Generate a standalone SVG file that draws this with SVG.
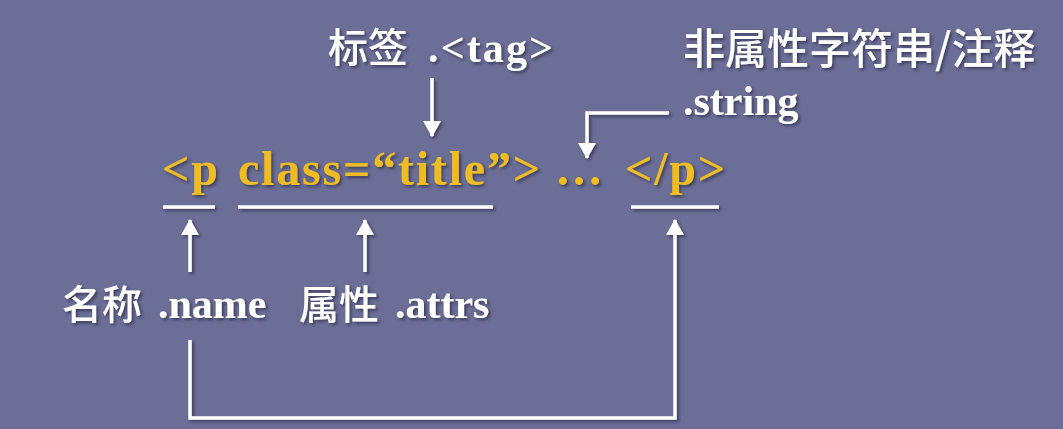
<svg xmlns="http://www.w3.org/2000/svg" width="1063" height="429" viewBox="0 0 1063 429">
<defs>
<filter id="sh" x="-10%" y="-30%" width="120%" height="160%"><feDropShadow dx="2" dy="2" stdDeviation="1.5" flood-color="#2a2c45" flood-opacity="0.7"/></filter>
<marker id="ah" viewBox="0 0 16 18" refX="15" refY="9" markerWidth="16" markerHeight="18" orient="auto" markerUnits="userSpaceOnUse"><path d="M0,0 L16,9 L0,18 z" fill="#fff"/></marker>
<style>
.lat{fill:#fff;font-family:"Liberation Serif",serif;font-size:42px;font-weight:bold}
.cjk{fill:#fff;font-family:"Noto Sans CJK SC",sans-serif;font-size:40px;font-weight:500}
.code{fill:#efbd22;font-family:"Liberation Serif",serif;font-size:48px;font-weight:bold;letter-spacing:1.8px}
.ln{stroke:#fff;stroke-width:3.5;fill:none}
.ar{stroke:#fff;stroke-width:3.5;fill:none;marker-end:url(#ah)}
</style>
</defs>
<rect width="1063" height="429" fill="#6b6e96"/>
<g id="code" filter="url(#sh)">
<text class="code" x="162" y="185">&lt;p</text>
<text class="code" x="238" y="185">class=“title”&gt;</text>
<text class="code" x="555" y="185">…</text>
<text class="code" x="625" y="185">&lt;/p&gt;</text>
</g>
<g id="tag" filter="url(#sh)"><text class="cjk" x="328" y="62">标签</text><text class="lat" x="428" y="62" textLength="125">.&lt;tag&gt;</text></g>
<g id="string" filter="url(#sh)"><text class="cjk" x="683" y="64" style="font-size:42px">非属性字符串/注释</text><text class="lat" x="683" y="115">.string</text></g>
<g id="name" filter="url(#sh)"><text class="cjk" x="62" y="319">名称</text><text class="lat" x="158" y="318">.name</text></g>
<g id="attrs" filter="url(#sh)"><text class="cjk" x="299" y="319">属性</text><text class="lat" x="395" y="318">.attrs</text></g>
<g id="connectors" filter="url(#sh)">
<line class="ln" x1="163" y1="207" x2="215" y2="207"/>
<line class="ln" x1="238" y1="207" x2="493" y2="207"/>
<line class="ln" x1="631" y1="207" x2="719" y2="207"/>
<line class="ar" x1="432" y1="78" x2="432" y2="136"/>
<polyline class="ar" points="669,113 587,113 587,158"/>
<line class="ar" x1="190" y1="272" x2="190" y2="220"/>
<line class="ar" x1="365" y1="272" x2="365" y2="220"/>
<polyline class="ar" points="190,340 190,418 675,418 675,220"/>
</g>
</svg>
